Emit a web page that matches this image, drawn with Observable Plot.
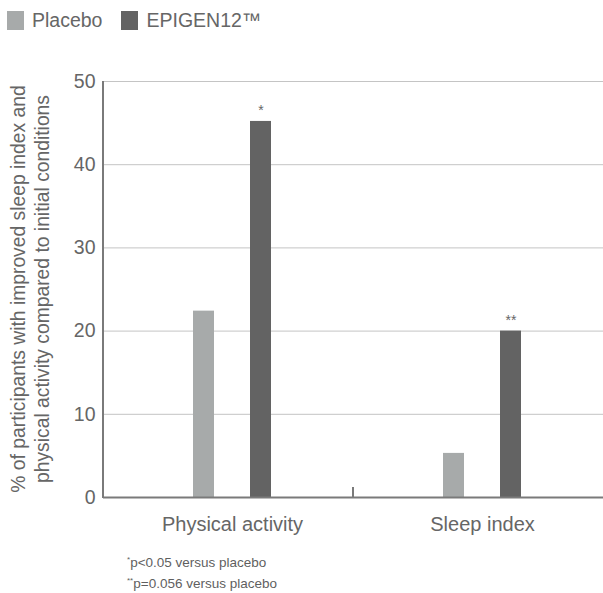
<!DOCTYPE html>
<html>
<head>
<meta charset="utf-8">
<script src="https://cdn.jsdelivr.net/npm/d3@7"></script>
<script src="https://cdn.jsdelivr.net/npm/@observablehq/plot@0.6"></script>
<style>
  body { margin: 0; background: #fff; font-family: "Liberation Sans", Arial, sans-serif; }
  #legend { height: 40px; display: flex; align-items: center; padding-left: 7px; font-size: 19.5px; color: #666; }
  .item { display: flex; align-items: center; margin-right: 19px; }
  .sw { width: 17px; height: 19px; display: inline-block; margin-right: 8px; }
  #chart svg { display: block; }
  #notes { font-size: 13.5px; color: #5f5f5f; padding-left: 127px; line-height: 19px; margin-top: 11px; }
  #notes .m { font-size: 8px; position: relative; top: -5px; vertical-align: baseline; }
</style>
</head>
<body>
<div id="legend"></div>
<div id="chart"></div>
<div id="notes"></div>
<script>
const categories = ["Physical activity", "Sleep index"];
const series = ["Placebo", "EPIGEN12™"];
const placebo = [22.4, 5.3];
const epigen = [45.2, 20.0];
const significance = ["*", "**"];
const yTicks = [0, 10, 20, 30, 40, 50];
const colors = ["#a7aaaa", "#636363"];
const yLabel = "% of participants with improved sleep index and\nphysical activity compared to initial conditions";
const footnotes = [["*", "p<0.05 versus placebo"], ["**", "p=0.056 versus placebo"]];

const data = categories.flatMap((c, i) => [
  {cat: c, s: series[0], v: placebo[i], note: ""},
  {cat: c, s: series[1], v: epigen[i], note: significance[i]}
]);

// legend
const legend = d3.select("#legend");
series.forEach((s, i) => {
  const it = legend.append("div").attr("class", "item");
  it.append("span").attr("class", "sw").style("background", colors[i]);
  it.append("span").text(s);
});

const chart = Plot.plot({
  width: 603,
  height: 502,
  marginLeft: 103,
  marginRight: 0,
  marginTop: 41,
  marginBottom: 45,
  style: {fontFamily: "'Liberation Sans', Arial, sans-serif", fontSize: "19px", color: "#666", background: "#fff"},
  fx: {domain: categories, padding: 0, label: null, axis: null},
  x: {domain: series, axis: null, paddingInner: 0.63, paddingOuter: 1.49, align: 0.523},
  y: {domain: [0, 50]},
  color: {domain: series, range: colors},
  marks: [
    Plot.gridY(yTicks, {stroke: "#c4c4c4", strokeOpacity: 1, strokeWidth: 1}),
    Plot.axisY(yTicks, {tickSize: 0, tickPadding: 8, fontSize: 19.5, label: null}),
    Plot.axisFx({anchor: "bottom", tickSize: 0, tickPadding: 19, fontSize: 20, dx: 4, label: null}),
    Plot.barY(data, {fx: "cat", x: "s", y: "v", fill: "s"}),
    Plot.text(data, {fx: "cat", x: "s", y: "v", text: "note", dy: -11, fontSize: 14, fill: "#666"}),
    Plot.ruleY([0], {stroke: "#7a7a7a", strokeWidth: 2})
  ]
});
document.getElementById("chart").appendChild(chart);

// axis line, group separator tick and y label drawn with the chart's scales
const fx = chart.scale("fx");
const y = Plot.scale({y: chart.scale("y")});
const svg = d3.select(chart);
const x0 = fx.range[0];
svg.append("line").attr("x1", x0).attr("x2", x0)
  .attr("y1", y.apply(50)).attr("y2", y.apply(0) + 1)
  .attr("stroke", "#7a7a7a").attr("stroke-width", 2);
for (let i = 1; i < categories.length; i++) {
  const xb = x0 + fx.step * i;
  svg.append("line").attr("x1", xb).attr("x2", xb)
    .attr("y1", y.apply(0) - 10).attr("y2", y.apply(0))
    .attr("stroke", "#7a7a7a").attr("stroke-width", 2);
}
const yc = (y.apply(0) + y.apply(50)) / 2;
const lab = svg.append("text")
  .attr("transform", `translate(0,${yc}) rotate(-90)`)
  .attr("text-anchor", "middle")
  .attr("fill", "#666")
  .style("font-size", "19.3px");
yLabel.split("\n").forEach((line, i) => {
  lab.append("tspan").attr("x", 0).attr("y", 25 + i * 24).text(line);
});

// footnotes
const notes = d3.select("#notes");
footnotes.forEach(([m, t]) => {
  const d = notes.append("div");
  d.append("span").attr("class", "m").text(m);
  d.append("span").text(t);
});
</script>
</body>
</html>
